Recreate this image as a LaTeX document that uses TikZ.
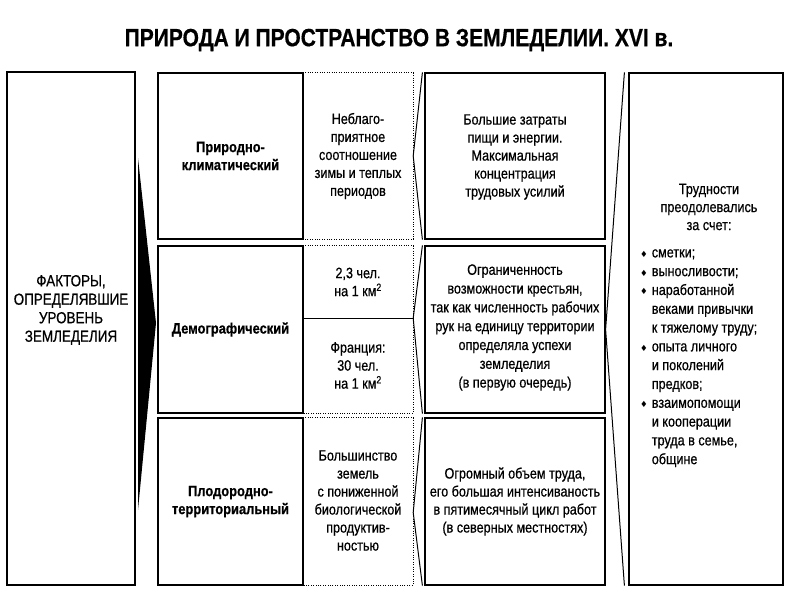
\documentclass[tikz,border=0pt]{standalone}
\usepackage{fontspec}
\setmainfont{Liberation Sans}[FakeStretch=0.84,FakeBold=0.6]
\newfontfamily\titlefont[FakeStretch=0.84,FakeBold=0.5]{Liberation Sans Bold}
\newfontfamily\boldfont[FakeStretch=0.86,FakeBold=0.6]{Liberation Sans Bold}
\newfontfamily\symfont{DejaVu Sans}
\newcommand{\dmd}{{\symfont\fontsize{8.5}{8.5}\selectfont ♦}}
\begin{document}
\begin{tikzpicture}[x=1pt,y=-1pt,
  box/.style={draw, line width=1.2pt, inner sep=0pt},
  cell/.style={inner sep=0pt},
  txt/.style={align=center, inner sep=0pt, font=\fontsize{15}{18}\selectfont},
  bold/.style={align=center, inner sep=0pt, font=\boldfont\fontsize{15}{18}\selectfont},
  dotline/.style={line width=0.9pt, dash pattern=on 1pt off 1.4pt},
  chev/.style={line width=1pt, line join=miter}]
\useasboundingbox (0,0) rectangle (800,600);
\fill[white] (0,0) rectangle (800,600);

% title
\node[font=\titlefont\fontsize{25}{25}\selectfont, inner sep=0pt] (T) at (399,40) {ПРИРОДА И ПРОСТРАНСТВО В ЗЕМЛЕДЕЛИИ. XVI в.};

% left box
\node[box, minimum width=128pt, minimum height=513pt] (L) at (71,328.5) {};
\node[txt, font=\fontsize{16}{18.5}\selectfont] (Lt) at (71,310) {ФАКТОРЫ,\\ОПРЕДЕЛЯВШИЕ\\УРОВЕНЬ\\ЗЕМЛЕДЕЛИЯ};

% black arrow
\fill[black] (138,158) -- (156,323) -- (138,510) -- cycle;

% factor boxes
\node[box, minimum width=145pt, minimum height=166pt] (F1) at (230.5,156) {};
\node[box, minimum width=145pt, minimum height=167pt] (F2) at (230.5,329.5) {};
\node[box, minimum width=145pt, minimum height=167pt] (F3) at (230.5,501.5) {};
\node[bold] (F1t) at (F1) {Природно-\\климатический};
\node[bold] (F2t) at (F2) {Демографический};
\node[bold] (F3t) at (F3) {Плодородно-\\территориальный};

% dotted cells
\node[cell, minimum width=110pt, minimum height=166pt] (D1) at (358,156) {};
\node[cell, minimum width=110pt, minimum height=72pt] (D2a) at (358,282) {};
\node[cell, minimum width=110pt, minimum height=95pt] (D2b) at (358,365.5) {};
\node[cell, minimum width=110pt, minimum height=167pt] (D3) at (358,501.5) {};
\draw[dotline] (D1.north west) -- (D1.north east) -- (D1.south east) -- (D1.south west);
\draw[dotline] (D2a.north west) -- (D2a.north east) -- (D2b.south east) -- (D2b.south west);
\draw[dotline] (D3.north west) -- (D3.north east) -- (D3.south east) -- (D3.south west);
\draw[line width=1.2pt] (D2a.south west) -- (D2a.south east);
\node[txt] (D1t) at (D1) {Неблаго-\\приятное\\соотношение\\зимы и теплых\\периодов};
\node[txt] (D2at) at (D2a) {2,3 чел.\\на 1 км\textsuperscript{2}};
\node[txt] (D2bt) at (D2b) {Франция:\\30 чел.\\на 1 км\textsuperscript{2}};
\node[txt] (D3t) at ([yshift=1pt]D3.center) {Большинство\\земель\\с пониженной\\биологической\\продуктив-\\ностью};

% third column
\node[box, minimum width=180pt, minimum height=166pt] (C1) at (515,156) {};
\node[box, minimum width=180pt, minimum height=167pt] (C2) at (515,329.5) {};
\node[box, minimum width=180pt, minimum height=167pt] (C3) at (515,501.5) {};
\draw[chev] ([xshift=-2pt]C1.north west) -- (D1.east) -- ([xshift=-2pt]C1.south west);
\draw[chev] ([xshift=-2pt]C2.north west) -- (D2a.south east) -- ([xshift=-2pt]C2.south west);
\draw[chev] ([xshift=-2pt]C3.north west) -- ([yshift=-11pt]D3.east) -- ([xshift=-2pt]C3.south west);
\node[txt] (C1t) at ([yshift=-1pt]C1.center) {Большие затраты\\пищи и энергии.\\Максимальная\\концентрация\\трудовых усилий};
\node[txt, font=\fontsize{15}{18.8}\selectfont] (C2t) at ([yshift=2pt]C2.center) {Ограниченность\\возможности крестьян,\\так как численность рабочих\\рук на единицу территории\\определяла успехи\\земледелия\\(в первую очередь)};
\node[txt] (C3t) at (C3) {Огромный объем труда,\\его большая интенсиваность\\в пятимесячный цикл работ\\(в северных местностях)};

% right box
\node[box, minimum width=154pt, minimum height=512pt] (R) at (706,329) {};
\draw[chev] ([xshift=-4pt]R.north west) -- (C2.east) -- ([xshift=-4pt]R.south west);
\node[txt] (Rh) at (709,207) {Трудности\\преодолевались\\за счет:};
\node[anchor=north west, inner sep=0pt, font=\fontsize{15}{18.8}\selectfont] (Rb) at (640,244)
 {\begin{tabular}{@{}l@{\hspace{4pt}}l@{}}
 \dmd & сметки;\\
 \dmd & выносливости;\\
 \dmd & наработанной\\
      & веками привычки\\
      & к тяжелому труду;\\
 \dmd & опыта личного\\
      & и поколений\\
      & предков;\\
 \dmd & взаимопомощи\\
      & и кооперации\\
      & труда в семье,\\
      & общине
 \end{tabular}};
\end{tikzpicture}
\end{document}
